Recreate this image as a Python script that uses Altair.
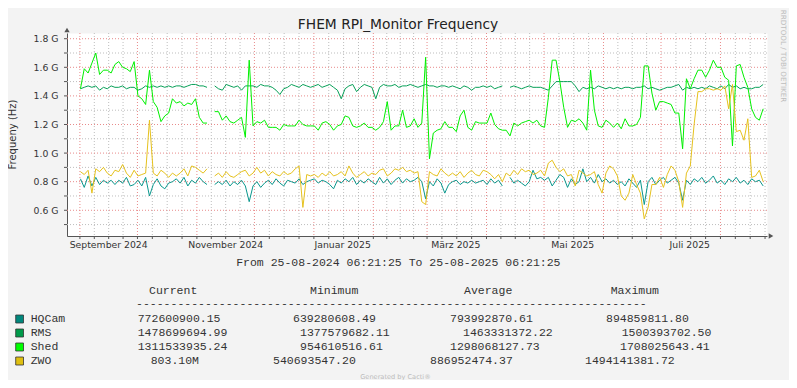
import altair as alt
import pandas as pd

# ---------------- data ----------------
RANGE_START = "2024-08-25 06:21:25"
RANGE_END = "2025-08-25 06:21:25"
SAMPLE_START = "2024-09-01 06:21:25"   # first sample, one every 2 days
N = 179

# values in GHz (G)
hqcam = [
    0.82, 0.76, 0.84, 0.77, 0.83, 0.78, 0.81, 0.79, 0.81, 0.78,
    0.81, 0.79, 0.83, 0.77, 0.78, 0.81, 0.77, 0.83, 0.70, 0.78,
    0.82, 0.77, 0.75, 0.79, 0.80, 0.82, 0.79, 0.83, 0.77, 0.81,
    0.79, 0.83, 0.80, 0.78, None, 0.78, 0.80, 0.78, 0.81, 0.77,
    0.80, 0.78, 0.81, 0.77, 0.66, 0.77, 0.80, 0.76, 0.79, 0.81,
    0.78, 0.82, 0.79, 0.77, 0.81, 0.80, 0.79, 0.82, 0.78, 0.80,
    0.81, 0.82, 0.79, 0.81, 0.80, 0.78, 0.75, 0.81, 0.79, 0.82,
    0.80, 0.83, 0.78, 0.81, 0.79, 0.82, 0.80, 0.78, 0.83, 0.79,
    0.82, 0.78, 0.81, 0.83, 0.79, 0.82, 0.80, 0.81, 0.83, 0.80,
    0.68, 0.80, 0.77, 0.82, 0.79, 0.72, 0.78, 0.80, 0.81, 0.78,
    0.80, 0.79, 0.81, 0.79, 0.80, 0.81, 0.78, 0.82, 0.79, 0.81,
    0.77, None, 0.83, 0.79, 0.81, 0.79, 0.77, 0.80, 0.88, 0.82,
    0.83, 0.81, 0.83, 0.77, 0.81, 0.85, 0.83, 0.76, 0.82, 0.78,
    0.80, 0.89, 0.80, 0.83, 0.79, 0.85, 0.80, 0.82, 0.79, 0.81,
    0.78, 0.80, 0.77, 0.82, 0.79, 0.76, 0.81, 0.64, 0.80, 0.83,
    0.78, 0.81, 0.83, 0.79, 0.81, 0.83, 0.79, 0.67, 0.81, 0.78,
    0.82, 0.80, 0.83, 0.79, 0.81, 0.84, 0.79, 0.81, 0.78, 0.82,
    0.80, 0.83, 0.79, 0.81, 0.78, 0.82, 0.80, 0.81, 0.77,
]
rms = [
    1.45, 1.46, 1.47, 1.46, 1.47, 1.44, 1.46, 1.45, 1.47, 1.46,
    1.46, 1.47, 1.45, 1.46, 1.46, 1.44, 1.45, 1.47, 1.46, 1.47,
    1.46, 1.47, 1.46, 1.47, 1.46, 1.47, 1.47, 1.46, 1.47, 1.48,
    1.48, 1.47, 1.47, 1.46, None, 1.47, 1.45, 1.44, 1.48, 1.47,
    1.46, 1.47, 1.44, 1.47, 1.47, 1.47, 1.46, 1.48, 1.47, 1.47,
    1.46, 1.44, 1.41, 1.45, 1.46, 1.48, 1.47, 1.46, 1.48, 1.47,
    1.46, 1.47, 1.48, 1.46, 1.47, 1.48, 1.46, 1.44, 1.38, 1.45,
    1.47, 1.48, 1.43, 1.46, 1.48, 1.47, 1.46, 1.38, 1.46, 1.48,
    1.47, 1.47, 1.48, 1.46, 1.47, 1.47, 1.48, 1.47, 1.46, 1.47,
    1.48, 1.47, 1.47, 1.46, 1.47, 1.47, 1.46, 1.47, 1.46, 1.45,
    1.47, 1.46, 1.44, 1.46, 1.46, 1.47, 1.46, 1.47, 1.45, 1.46,
    1.47, None, 1.46, 1.47, 1.46, 1.45, 1.46, 1.47, 1.46, 1.46,
    1.46, 1.45, 1.44, 1.47, 1.50, 1.50, 1.50, 1.50, 1.50, 1.47,
    1.43, 1.46, 1.45, 1.46, 1.45, 1.47, 1.46, 1.45, 1.46, 1.45,
    1.46, 1.45, 1.46, 1.46, 1.45, 1.46, 1.46, 1.47, 1.45, 1.46,
    1.45, 1.44, 1.45, 1.46, 1.46, 1.47, 1.48, 1.44, 1.46, 1.45,
    1.46, 1.45, 1.46, 1.45, 1.47, 1.46, 1.45, 1.47, 1.45, 1.48,
    1.46, 1.47, 1.45, 1.46, 1.45, 1.45, 1.46, 1.46, 1.48,
]
shed = [
    1.45, 1.59, 1.56, 1.63, 1.70, 1.55, 1.58, 1.58, 1.56, 1.62,
    1.64, 1.60, 1.59, 1.57, 1.64, 1.40, 1.38, 1.34, 1.58, 1.36,
    1.32, 1.22, 1.26, 1.28, 1.38, 1.35, 1.36, 1.33, 1.35, 1.34,
    1.38, 1.25, 1.21, 1.21, None, 1.29, 1.29, 1.23, 1.26, 1.22,
    1.21, 1.23, 1.25, 1.11, 1.65, 1.19, 1.22, 1.21, 1.23, 1.18,
    1.18, 1.18, 1.16, 1.20, 1.19, 1.19, 1.19, 1.23, 1.20, 1.19,
    1.19, 1.19, 1.16, 1.21, 1.22, 1.20, 1.16, 1.19, 1.20, 1.26,
    1.25, 1.19, 1.18, 1.19, 1.21, 1.18, 1.18, 1.16, 1.18, 1.22,
    1.36, 1.16, 1.19, 1.19, 1.30, 1.18, 1.19, 1.24, 1.18, 1.21,
    1.67, 0.96, 1.14, 1.16, 1.17, 1.22, 1.18, 1.18, 1.15, 1.26,
    1.30, 1.18, 1.16, 1.22, 1.21, 1.21, 1.21, 1.28, 1.20, 1.17,
    1.16, 1.16, 1.12, 1.21, 1.19, 1.21, 1.22, 1.23, 1.21, 1.23,
    1.19, 1.18, 1.39, 1.65, 1.65, 1.50, 1.32, 1.18, 1.23, 1.22,
    1.24, 1.21, 1.16, 1.58, 1.30, 1.19, 1.18, 1.23, 1.21, 1.18,
    1.21, 1.17, 1.24, 1.19, 1.19, 1.20, 1.25, 1.61, 1.61, 1.42,
    1.30, 1.36, 1.36, 1.35, 1.34, 1.28, 1.28, 1.03, 1.52, 1.45,
    1.52, 1.58, 1.58, 1.53, 1.58, 1.65, 1.60, 1.60, 1.53, 1.51,
    1.05, 1.61, 1.62, 1.53, 1.46, 1.31, 1.25, 1.23, 1.31,
]
zwo = [
    0.87, 0.85, 0.88, 0.72, 0.89, 0.87, 0.90, 0.86, 0.84, 0.88,
    0.87, 0.92, 0.86, 0.83, 0.88, 0.84, 0.85, 0.86, 1.23, 0.86,
    0.84, 0.88, 0.86, 0.83, 0.86, 0.84, 0.86, 0.89, 0.84, 0.91,
    0.90, 0.88, 0.86, 0.89, None, 0.84, 0.86, 0.83, 0.87, 0.84,
    0.83, 0.85, 0.87, 0.88, 0.84, 0.86, 0.90, 0.86, 0.88, 0.84,
    0.87, 0.85, 0.84, 0.87, 0.85, 0.86, 0.89, 0.91, 0.62, 0.85,
    0.84, 0.85, 0.83, 0.86, 0.84, 0.87, 0.84, 0.85, 0.87, 0.84,
    0.91, 0.86, 0.83, 0.85, 0.87, 0.84, 0.86, 0.85, 0.88, 0.89,
    0.84, 0.86, 0.89, 0.88, 0.90, 0.87, 0.88, 0.86, 0.87, 0.66,
    0.64, 0.87, 0.85, 0.84, 0.89, 0.86, 0.84, 0.86, 0.84, 0.87,
    0.83, 0.86, 0.88, 0.85, 0.84, 0.88, 0.87, 0.85, 0.82, 0.85,
    0.80, 0.86, 0.84, 0.88, 0.85, 0.89, 0.87, 0.88, 0.85, 0.86,
    0.88, 0.84, 0.93, 0.95, 0.90, 0.87, 0.89, 0.84, 0.85, 0.77,
    0.88, 0.86, 0.84, 0.85, 0.87, 0.78, 0.72, 0.86, 0.91, 0.89,
    0.84, 0.70, 0.67, 0.72, 0.85, 0.78, 0.72, 0.54, 0.62, 0.78,
    0.78, 0.83, 0.76, 0.85, 0.91, 0.88, 0.80, 0.62, 0.86, 0.91,
    1.20, 1.43, 1.43, 1.45, 1.45, 1.44, 1.45, 1.44, 1.47, 1.31,
    1.48, 1.15, 1.16, 1.09, 1.24, 0.83, 0.84, 0.88, 0.80,
]

series_names = ["HQCam", "RMS", "Shed", "ZWO"]
series_values = [hqcam, rms, shed, zwo]

legend_headers = ["Current", "Minimum", "Average", "Maximum"]
legend_current = ["772600900.15", "1478699694.99", "1311533935.24", "803.10M"]
legend_minimum = ["639280608.49", "1377579682.11", "954610516.61", "540693547.20"]
legend_average = ["793992870.61", "1463331372.22", "1298068127.73", "886952474.37"]
legend_maximum = ["894859811.80", "1500393702.50", "1708025643.41", "1494141381.72"]

month_labels = ["September 2024", "November 2024", "Januar 2025", "März 2025", "Mai 2025", "Juli 2025"]
month_label_months = ["2024-09-01", "2024-11-01", "2025-01-01", "2025-03-01", "2025-05-01", "2025-07-01"]

y_major = [0.6, 0.8, 1.0, 1.2, 1.4, 1.6, 1.8]
y_minor = [0.5, 0.7, 0.9, 1.1, 1.3, 1.5, 1.7]
y_domain = [0.42, 1.84]

title_text = "FHEM RPI_Monitor Frequency"
y_title_text = "Frequeny (Hz)"
range_text = "From 25-08-2024 06:21:25 To 25-08-2025 06:21:25"
side_text = "RRDTOOL / TOBI OETIKER"
footer_text = "Generated by Cacti®"

# ---------------- styles / layout ----------------
W, H = 700, 203
line_colors = ["#0A978D", "#07A057", "#00F000", "#E6C21E"]
swatch_colors = ["#00877C", "#009A4A", "#00FF00", "#DFBF10"]
AXIS_COL = "#555555"
TEXT_COL = "#333333"
SANS = "DejaVu Sans"
MONO = "Liberation Mono"
MONO_SIZE = 11.5

for vals in series_values:
    assert len(vals) == N

dates = pd.date_range(SAMPLE_START, periods=N, freq="2D")
df = pd.DataFrame({
    "date": list(dates) * 4,
    "v": [v for vals in series_values for v in vals],
    "series": [n for n in series_names for _ in range(N)],
})

t0 = pd.Timestamp(RANGE_START)
t1 = pd.Timestamp(RANGE_END)
major_dates = list(pd.date_range("2024-09-01", "2025-08-01", freq="MS"))
minor_dates = []
for m in major_dates:
    nxt = m + pd.offsets.MonthBegin(1)
    for k in (1, 2, 3):
        d = m + (nxt - m) * k / 4
        if d < t1:
            minor_dates.append(d)

def dt(ts):
    return alt.DateTime(year=ts.year, month=ts.month, date=ts.day,
                        hours=ts.hour, minutes=ts.minute, seconds=ts.second)

x_scale = alt.Scale(domain=[dt(t0), dt(t1)], nice=False)
y_scale = alt.Scale(domain=y_domain, nice=False, zero=False)
x_axis = alt.Axis(labels=False, ticks=False, grid=False, domainColor=AXIS_COL, title=None)
y_axis = alt.Axis(values=y_major, labelExpr="format(datum.value, '.1f') + ' G'",
                  labelFont=SANS, labelFontSize=9.3, labelColor=TEXT_COL,
                  ticks=False, grid=False, domainColor=AXIS_COL, labelPadding=9, title=None)

def X(field):
    return alt.X(field, type="temporal", scale=x_scale, axis=x_axis)

def Y(field):
    return alt.Y(field, type="quantitative", scale=y_scale, axis=y_axis)

gx_major = pd.DataFrame({"d": major_dates})
gx_minor = pd.DataFrame({"d": minor_dates})
gx_all = pd.DataFrame({"d": major_dates + minor_dates})
gy_major = pd.DataFrame({"g": y_major})
gy_minor = pd.DataFrame({"g": y_minor})
gy_all = pd.DataFrame({"g": y_major + y_minor})

dash = [1, 2]
grid_layers = [
    alt.Chart(gx_minor).mark_rule(color="#BDBDBD", strokeDash=dash, strokeWidth=1).encode(x=X("d")),
    alt.Chart(gy_minor).mark_rule(color="#BDBDBD", strokeDash=dash, strokeWidth=1).encode(y=Y("g")),
    alt.Chart(gx_major).mark_rule(color="#E88A8A", strokeDash=dash, strokeWidth=1).encode(x=X("d")),
    alt.Chart(gy_major).mark_rule(color="#E88A8A", strokeDash=dash, strokeWidth=1).encode(y=Y("g")),
]

tick_layers = [
    alt.Chart(gx_all).mark_rule(color=AXIS_COL, strokeWidth=1).encode(
        x=X("d"), y=alt.value(H), y2=alt.value(H + 3)),
    alt.Chart(gy_all).mark_rule(color=AXIS_COL, strokeWidth=1).encode(
        y=Y("g"), x=alt.value(-3), x2=alt.value(0)),
]

line_layers = [
    alt.Chart(df).transform_filter(alt.datum.series == name).mark_line(
        color=col, strokeWidth=1, invalid="break-paths-show-domains"
    ).encode(x=X("date"), y=Y("v"))
    for name, col in zip(series_names, line_colors)
]

one = pd.DataFrame({"a": [0]})
arrow_layers = [
    alt.Chart(one).mark_point(shape="triangle-up", filled=True, size=28, color=AXIS_COL, opacity=1).encode(
        x=alt.value(0), y=alt.value(-3)),
    alt.Chart(one).mark_point(shape="triangle-right", filled=True, size=28, color=AXIS_COL, opacity=1).encode(
        x=alt.value(W + 4), y=alt.value(H)),
]

month_df = pd.DataFrame({
    "d": [pd.Timestamp(m) + pd.Timedelta(days=15) for m in month_label_months],
    "label": month_labels,
})
month_layer = alt.Chart(month_df).mark_text(
    font=SANS, fontSize=9.3, color=TEXT_COL, align="center", baseline="alphabetic"
).encode(x=X("d"), y=alt.value(H + 12), text="label:N")

def txt(text, px, py, **kw):
    return alt.Chart(pd.DataFrame({"t": [text]})).mark_text(**kw).encode(
        x=alt.value(px), y=alt.value(py), text="t:N")

title_layer = txt(title_text, 331, -3.7, font=SANS, fontSize=13.8, color="#222222",
                  align="center", baseline="alphabetic")
ytitle_layer = txt(y_title_text, -54, 101.5, font=SANS, fontSize=10, color=TEXT_COL,
                   align="center", baseline="middle", angle=270)
range_layer = txt(range_text, 331.3, 233, font=MONO, fontSize=MONO_SIZE, color=TEXT_COL,
                  align="center", baseline="alphabetic")
side_layer = txt(side_text, 716, 23, font=SANS, fontSize=7.2, color="#BDBDBD",
                 align="center", baseline="middle", angle=90)
footer_layer = txt(footer_text, 328.5, 345.5, font=SANS, fontSize=6.6, color="#BBBBBB",
                   align="center", baseline="alphabetic")
dash_layer = txt("-" * 74, 69, 273.7, font=MONO, fontSize=MONO_SIZE, color=TEXT_COL,
                 align="left", baseline="alphabetic")

# legend table (positions in plot-relative pixels)
header_x = [82, 243, 397, 543.7]
header_y = 261
row_y = [289.3, 303.3, 317.3, 331.3]
name_x = -36.3
cur_x = [70.7, 70.7, 70.7, 83.7]
min_x = [226, 233, 233, 206]
avg_x = [383, 396, 383, 363]
max_x = [539, 554.7, 553, 518]

cells = []
for h, hx in zip(legend_headers, header_x):
    cells.append({"t": h, "px": hx, "py": header_y})
for i in range(4):
    cells.append({"t": series_names[i], "px": name_x, "py": row_y[i]})
    cells.append({"t": legend_current[i], "px": cur_x[i], "py": row_y[i]})
    cells.append({"t": legend_minimum[i], "px": min_x[i], "py": row_y[i]})
    cells.append({"t": legend_average[i], "px": avg_x[i], "py": row_y[i]})
    cells.append({"t": legend_maximum[i], "px": max_x[i], "py": row_y[i]})
cells_df = pd.DataFrame(cells)
legend_text_layer = alt.Chart(cells_df).mark_text(
    font=MONO, fontSize=MONO_SIZE, color=TEXT_COL, align="left", baseline="alphabetic"
).encode(
    x=alt.X("px:Q", scale=None, axis=None),
    y=alt.Y("py:Q", scale=None, axis=None),
    text="t:N",
)

sw_df = pd.DataFrame({
    "name": series_names,
    "c": swatch_colors,
    "x0": [-51.3] * 4,
    "x1": [-43.5] * 4,
    "y0": [r - 7.3 for r in row_y],
    "y1": [r + 0.7 for r in row_y],
})
swatch_layer = alt.Chart(sw_df).mark_rect(stroke="#333333", strokeWidth=0.8).encode(
    x=alt.X("x0:Q", scale=None, axis=None), x2="x1:Q",
    y=alt.Y("y0:Q", scale=None, axis=None), y2="y1:Q",
    color=alt.Color("c:N", scale=None),
)

chart = alt.layer(
    *grid_layers, *line_layers, *tick_layers, *arrow_layers, month_layer,
    title_layer, ytitle_layer, range_layer, side_layer, footer_layer, dash_layer,
    legend_text_layer, swatch_layer,
).properties(
    width=W, height=H,
    autosize=alt.AutoSizeParams(type="none"),
    padding={"left": 59, "top": 25, "right": 22, "bottom": 144},
    background="#F3F3F3",
).configure_view(fill="white", stroke="transparent")

chart.save("out.html", embed_options={"renderer": "svg", "actions": False})
